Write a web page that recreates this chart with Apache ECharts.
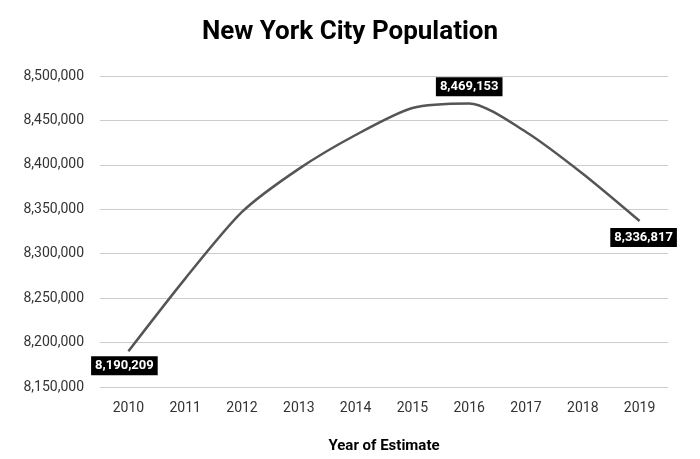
<!DOCTYPE html><html><head><meta charset="utf-8"><script src="https://cdn.jsdelivr.net/npm/echarts@6/dist/echarts.min.js"></script></head><body style="margin:0"><div id="c" style="width:700px;height:459px"></div><script>
const years=['2010','2011','2012','2013','2014','2015','2016','2017','2018','2019'];
const population=[8190209,8272000,8347000,8395500,8433600,8464000,8469153,8437000,8390000,8336817];
const labelled={0:'bottom',6:'top',9:'bottom'};
const F='"Liberation Sans Narrow", "Roboto", sans-serif';
const c=echarts.init(document.getElementById('c'));
c.setOption({
title:{text:'New York City Population',left:'center',top:14,textStyle:{fontFamily:F,fontSize:26,fontWeight:'bold',color:'#000'}},
grid:{left:100,right:32,top:76,bottom:71},
xAxis:{type:'category',data:years,name:'Year of Estimate',nameLocation:'middle',nameGap:52,nameTextStyle:{fontFamily:F,fontSize:15,fontWeight:'bold',color:'#000'},axisLine:{show:false},axisTick:{show:false},axisLabel:{fontFamily:F,fontSize:14,color:'#333',margin:14}},
yAxis:{type:'value',min:8150000,max:8500000,interval:50000,axisLabel:{fontFamily:F,fontSize:14,color:'#333',margin:16,formatter:v=>v.toLocaleString('en-US')},splitLine:{lineStyle:{color:'#ccc'}}},
series:[{type:'line',data:population.map((v,i)=>labelled[i]?{value:v,label:{show:true,position:labelled[i],offset:i===0?[-4,0]:(i===9?[4,2]:[0,-2])}}:v),symbol:'circle',symbolSize:0.1,showSymbol:true,itemStyle:{color:'#555'},smooth:0.25,lineStyle:{color:'#555',width:2.5},
label:{show:false,formatter:p=>p.value.toLocaleString('en-US'),backgroundColor:'#000',color:'#fff',fontFamily:F,fontWeight:'bold',fontSize:13,padding:[3,4]}}]
});
</script></body></html>
